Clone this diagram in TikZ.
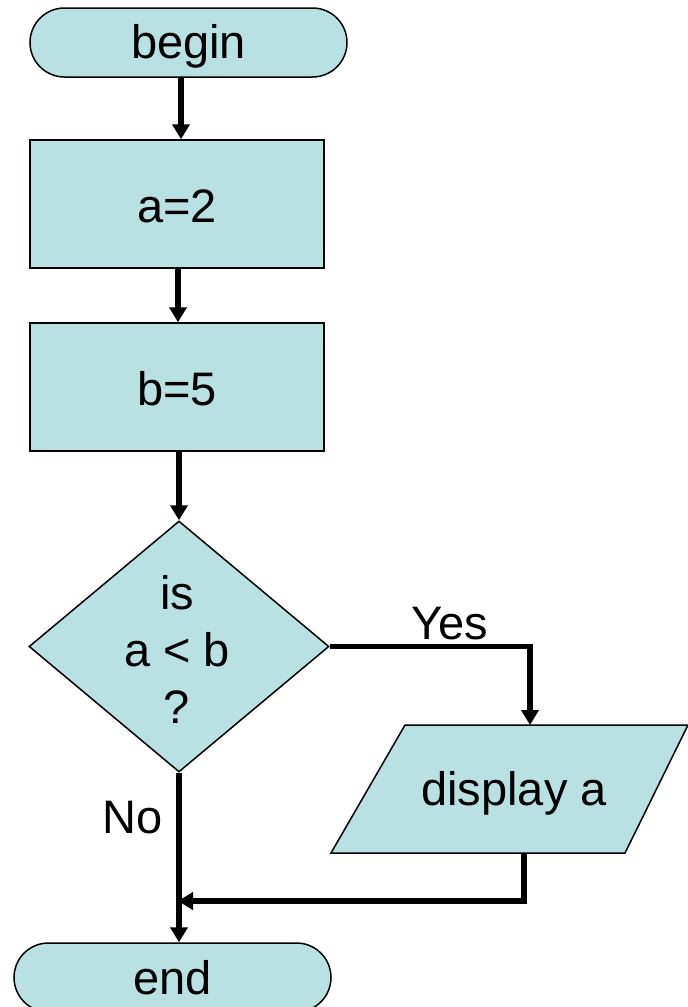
\documentclass[tikz,border=0pt]{standalone}
\usepackage{fontspec}
\setmainfont{Liberation Sans}
\usetikzlibrary{shapes.geometric,arrows.meta}
\definecolor{boxfill}{RGB}{185,224,227}
\newcommand{\lowered}[2]{\raisebox{-#1}[\height][\depth]{#2}}
\tikzset{
  x=1pt, y=-1pt,
  txt/.style={font=\fontsize{47}{57}\selectfont, align=center, inner sep=0pt},
  shapebase/.style={draw=black, line width=1.5pt, fill=boxfill, inner sep=0pt},
  terminal/.style={shapebase, rectangle, rounded corners=34.5pt, minimum width=317pt, minimum height=69pt, txt},
  process/.style={shapebase, rectangle, minimum width=294pt, minimum height=128pt, txt},
  decision/.style={shapebase, diamond, minimum width=300pt, minimum height=251pt},
  flow/.style={line width=5.5pt, -{Triangle[length=15pt,width=17pt]}},
}
\begin{document}
\begin{tikzpicture}
\useasboundingbox (0,0) rectangle (688,1007);
% blocks
\node[terminal] (begin) at (188.5,42.5) {\lowered{4pt}{begin}};
\node[process] (seta) at (177,204) {\lowered{2pt}{a=2}};
\node[process] (setb) at (177,387) {\lowered{2pt}{b=5}};
\node[decision] (dec) at (179,646.5) {};
\node[txt] (dectext) at (177,649) {is\\a {<} b\\?};
% input/output parallelogram
\coordinate (dtl) at (405,725);
\coordinate (dtr) at (688,725);
\coordinate (dbr) at (625,853);
\coordinate (dbl) at (331,853);
\draw[shapebase] (dtl) -- (dtr) -- (dbr) -- (dbl) -- cycle;
\node[txt] (disptext) at (514,793) {display a};
\coordinate (dispin) at (530,725);
\coordinate (dispout) at (524,853);
\node[terminal] (end) at (172.5,977.5) {end};
\coordinate (join) at (178,901);
% connectors
\draw[flow] ([xshift=-7.5pt]begin.south) -- ([xshift=4pt]seta.north);
\draw[flow] ([xshift=1pt]seta.south) -- ([xshift=1pt]setb.north);
\draw[flow] (setb.south -| dec.north) -- (dec.north);
\draw[flow] (dec.east) -| (dispin);
\draw[flow] (dispout) |- (join);
\draw[flow] (dec.south) -- (dec.south |- end.north);
% branch labels
\node[txt] (yes) at (450,624) {Yes};
\node[txt] (no) at (133,818) {No};
\end{tikzpicture}
\end{document}
